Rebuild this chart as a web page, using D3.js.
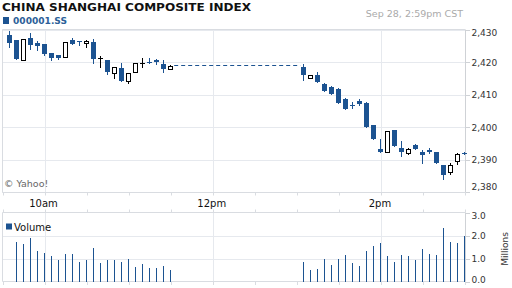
<!DOCTYPE html>
<html>
<head>
<meta charset="utf-8">
<script src="https://cdn.jsdelivr.net/npm/d3@7/dist/d3.min.js"></script>
<style>
  body { margin: 0; background: #fff; }
  text { font-family: "DejaVu Sans", sans-serif; }
</style>
</head>
<body>
<div id="chart"></div>
<script>
// 5 minute candles, morning and afternoon sessions
var times = ["09:35","09:40","09:45","09:50","09:55","10:00","10:05","10:10","10:15","10:20","10:25","10:30",
             "10:35","10:40","10:45","10:50","10:55","11:00","11:05","11:10","11:15","11:20","11:25","11:30",
             "13:05","13:10","13:15","13:20","13:25","13:30","13:35","13:40","13:45","13:50","13:55","14:00",
             "14:05","14:10","14:15","14:20","14:25","14:30","14:35","14:40","14:45","14:50","14:55","15:00"];
var open  = [2428.4,2426.9,2420.8,2427.5,2425.9,2425.7,2423.0,2422.2,2421.8,2426.9,2426.6,2425.9,
             2426.3,2421.1,2420.8,2416.7,2418.3,2414.4,2416.9,2419.4,2420.2,2420.6,2419.6,2418.0,
             2418.7,2415.2,2416.2,2413.3,2412.5,2411.9,2408.8,2407.0,2408.2,2407.5,2400.6,2393.3,
             2392.4,2399.0,2393.6,2391.9,2394.4,2392.3,2392.9,2392.3,2388.2,2386.3,2389.7,2392.0];
var high  = [2429.7,2427.0,2427.1,2429.2,2426.6,2425.7,2423.0,2422.4,2426.3,2427.5,2426.6,2426.9,
             2427.3,2422.0,2420.8,2418.6,2419.8,2416.7,2419.8,2421.4,2421.4,2421.0,2420.6,2419.3,
             2419.5,2416.2,2417.0,2413.7,2412.8,2412.0,2409.0,2407.9,2408.6,2407.9,2400.6,2396.4,
             2398.9,2399.2,2395.8,2393.7,2394.7,2393.1,2393.7,2392.3,2388.2,2389.0,2392.1,2392.3];
var low   = [2424.9,2421.2,2420.6,2424.1,2423.9,2422.2,2420.8,2421.0,2421.8,2425.7,2425.3,2424.9,
             2419.8,2418.7,2416.3,2415.3,2414.4,2413.6,2416.9,2418.6,2419.8,2419.4,2416.9,2418.0,
             2414.5,2415.2,2414.1,2411.1,2410.2,2407.4,2405.6,2405.9,2407.0,2400.0,2396.4,2392.5,
             2392.4,2394.2,2391.2,2391.7,2393.3,2388.8,2391.9,2389.0,2383.9,2385.7,2388.6,2391.7];
var close = [2426.1,2421.2,2427.1,2425.3,2425.1,2422.6,2421.4,2421.4,2426.3,2425.7,2426.4,2426.6,
             2421.0,2421.3,2416.9,2418.6,2414.4,2416.7,2419.8,2419.8,2419.8,2420.0,2418.1,2419.0,
             2416.0,2416.2,2414.1,2411.1,2410.2,2407.4,2405.6,2406.9,2407.3,2400.0,2396.4,2392.5,
             2398.9,2394.2,2392.2,2393.3,2393.3,2391.3,2392.5,2389.0,2385.1,2388.4,2391.7,2391.9];
// volume in millions
var volume = [null,1.73,1.65,1.91,1.32,1.25,1.10,0.93,1.20,1.20,0.85,0.93,
              1.46,0.81,0.93,0.93,0.85,0.97,0.62,0.76,0.59,0.59,0.66,0.49,
              0.85,0.49,0.53,0.97,0.71,0.97,1.15,0.79,0.66,1.32,1.54,1.68,
              1.10,0.85,1.15,1.10,0.93,1.41,1.19,1.15,2.34,1.72,1.68,1.99];
var lunchLevel = 2419.3;
var lunchFrom = "11:30", lunchTo = "13:00";

var priceTicks = [2430, 2420, 2410, 2400, 2390, 2380];
var volTicks = [3, 2, 1, 0];
var majorTicks = [["10:00","10am"], ["12:00","12pm"], ["14:00","2pm"]];
var minorTicks = ["09:30","10:30","11:00","11:30","12:30","13:00","13:30","14:30","15:00"];

var blue = "#1c5391", grid = "#e6e9ee", frame = "#d9dce1";
var W = 512, H = 288;

function mins(t) { var p = t.split(":"); return (+p[0]) * 60 + (+p[1]) - 570; }

var x = d3.scaleLinear().domain([0, 330]).range([2.5, 465]);
var y = d3.scaleLinear().domain([2380, 2430]).range([192, 30]);
var yv = d3.scaleLinear().domain([0, 3]).range([281.5, 212.5]);

var svg = d3.select("#chart").append("svg")
    .attr("width", W).attr("height", H);
svg.append("rect").attr("width", W).attr("height", H).attr("fill", "#fff");

function px(v) { return Math.round(v) + 0.5; }

// titles
svg.append("text").attr("x", 2).attr("y", 10.5)
    .attr("font-size", 11).attr("font-weight", "bold").attr("fill", "#111")
    .attr("textLength", 249).attr("lengthAdjust", "spacingAndGlyphs")
    .text("CHINA SHANGHAI COMPOSITE INDEX");
svg.append("rect").attr("x", 3).attr("y", 17).attr("width", 6).attr("height", 7).attr("fill", blue);
svg.append("text").attr("x", 13).attr("y", 23.5)
    .attr("font-size", 9).attr("font-weight", "bold").attr("fill", "#2d5f99")
    .attr("textLength", 54).attr("lengthAdjust", "spacingAndGlyphs")
    .text("000001.SS");
svg.append("text").attr("x", 463).attr("y", 17).attr("text-anchor", "end")
    .attr("font-size", 9.5).attr("fill", "#aaa")
    .text("Sep 28, 2:59pm CST");

// price panel grid
var main = svg.append("g");
main.selectAll(".hg").data(priceTicks).enter().append("line")
    .attr("x1", 2.5).attr("x2", 465).attr("y1", function(d){ return px(y(d)); }).attr("y2", function(d){ return px(y(d)); })
    .attr("stroke", grid);
main.selectAll(".vg").data(majorTicks).enter().append("line")
    .attr("x1", function(d){ return px(x(mins(d[0]))); }).attr("x2", function(d){ return px(x(mins(d[0]))); })
    .attr("y1", 29.5).attr("y2", 192.5).attr("stroke", grid);
main.append("line").attr("x1", 2.5).attr("x2", 465).attr("y1", 29.5).attr("y2", 29.5).attr("stroke", frame);
main.append("line").attr("x1", 2.5).attr("x2", 465).attr("y1", 192.5).attr("y2", 192.5).attr("stroke", frame);
main.append("line").attr("x1", 2.5).attr("x2", 2.5).attr("y1", 29.5).attr("y2", 192.5).attr("stroke", frame);
main.append("line").attr("x1", 465.5).attr("x2", 465.5).attr("y1", 29.5).attr("y2", 192.5).attr("stroke", "#cfd2d6");
main.selectAll(".tk").data(priceTicks).enter().append("line")
    .attr("x1", 465.5).attr("x2", 470).attr("y1", function(d){ return px(y(d)); }).attr("y2", function(d){ return px(y(d)); })
    .attr("stroke", "#cfd2d6");
main.selectAll(".pl").data(priceTicks).enter().append("text")
    .attr("x", 471.5)
    .attr("y", function(d){ return Math.min(Math.max(y(d), 33), 187) + 3.3; })
    .attr("font-size", 9).attr("fill", "#333")
    .text(function(d){ return d3.format(",")(d); });

svg.append("text").attr("x", 4).attr("y", 187).attr("font-size", 9.5).attr("fill", "#666")
    .text("\u00a9 Yahoo!");

// lunch break dashed line
main.append("line")
    .attr("x1", x(mins(lunchFrom)) + 3.5).attr("x2", x(mins(lunchTo)) + 3.5)
    .attr("y1", px(y(lunchLevel))).attr("y2", px(y(lunchLevel)))
    .attr("stroke", blue).attr("stroke-width", 1).attr("stroke-dasharray", "4,3");

// candles
var candles = times.map(function(t, i) {
    return { t: t, o: open[i], h: high[i], l: low[i], c: close[i], v: volume[i] };
});
function cx(d) { return Math.round(x(mins(d.t)) - 1); }

var cg = main.selectAll(".candle").data(candles).enter().append("g");
cg.append("line")
    .attr("x1", function(d){ return cx(d) + 0.5; }).attr("x2", function(d){ return cx(d) + 0.5; })
    .attr("y1", function(d){ return Math.round(y(d.h)); }).attr("y2", function(d){ return Math.round(y(d.l)) + 1; })
    .attr("stroke", function(d){ return d.c < d.o ? blue : "#000"; });
cg.each(function(d) {
    var g = d3.select(this);
    var top = Math.round(y(Math.max(d.o, d.c))), bot = Math.round(y(Math.min(d.o, d.c)));
    if (d.c < d.o) {
        g.append("rect").attr("x", cx(d) - 2).attr("y", top)
            .attr("width", 5).attr("height", Math.max(1, bot - top)).attr("fill", blue);
    } else if (bot - top < 2) {
        g.append("rect").attr("x", cx(d) - 2).attr("y", top)
            .attr("width", 5).attr("height", Math.max(1, bot - top)).attr("fill", "#000");
    } else {
        g.append("rect").attr("x", cx(d) - 1.5).attr("y", top + 0.5)
            .attr("width", 4).attr("height", bot - top)
            .attr("fill", "#fff").attr("stroke", "#000");
    }
});

// time axis row
var allTicks = minorTicks.concat(majorTicks.map(function(d){ return d[0]; }));
var tr = svg.append("g");
tr.selectAll(".t1").data(allTicks).enter().append("line")
    .attr("x1", function(d){ return px(x(mins(d))); }).attr("x2", function(d){ return px(x(mins(d))); })
    .attr("y1", 192.5).attr("y2", 195.5).attr("stroke", frame);
tr.selectAll(".t2").data(allTicks).enter().append("line")
    .attr("x1", function(d){ return px(x(mins(d))); }).attr("x2", function(d){ return px(x(mins(d))); })
    .attr("y1", 209.5).attr("y2", 212.5).attr("stroke", frame);
tr.selectAll(".t3").data(allTicks).enter().append("line")
    .attr("x1", function(d){ return px(x(mins(d))); }).attr("x2", function(d){ return px(x(mins(d))); })
    .attr("y1", 281.5).attr("y2", 285).attr("stroke", frame);
tr.selectAll(".xl").data(majorTicks).enter().append("text")
    .attr("x", function(d){ return x(mins(d[0])) - 1; }).attr("y", 207)
    .attr("text-anchor", "middle").attr("font-size", 10).attr("fill", "#111")
    .text(function(d){ return d[1]; });

// volume panel
var vg = svg.append("g");
vg.selectAll(".hg").data([1, 2]).enter().append("line")
    .attr("x1", 2.5).attr("x2", 465).attr("y1", function(d){ return px(yv(d)); }).attr("y2", function(d){ return px(yv(d)); })
    .attr("stroke", grid);
vg.selectAll(".vg").data(majorTicks).enter().append("line")
    .attr("x1", function(d){ return px(x(mins(d[0]))); }).attr("x2", function(d){ return px(x(mins(d[0]))); })
    .attr("y1", 212.5).attr("y2", 281.5).attr("stroke", grid);
vg.append("line").attr("x1", 2.5).attr("x2", 465).attr("y1", 212.5).attr("y2", 212.5).attr("stroke", frame);
vg.append("line").attr("x1", 2.5).attr("x2", 465).attr("y1", 281.5).attr("y2", 281.5).attr("stroke", frame);
vg.append("line").attr("x1", 2.5).attr("x2", 2.5).attr("y1", 212.5).attr("y2", 281.5).attr("stroke", frame);
vg.append("line").attr("x1", 465.5).attr("x2", 465.5).attr("y1", 212.5).attr("y2", 281.5).attr("stroke", "#cfd2d6");
vg.selectAll(".tk").data(volTicks).enter().append("line")
    .attr("x1", 465.5).attr("x2", 470).attr("y1", function(d){ return px(yv(d)); }).attr("y2", function(d){ return px(yv(d)); })
    .attr("stroke", "#cfd2d6");
vg.selectAll(".vl").data(volTicks).enter().append("text")
    .attr("x", 471.5)
    .attr("y", function(d){ return Math.min(Math.max(yv(d), 216), 279.5) + 3.3; })
    .attr("font-size", 9).attr("fill", "#333")
    .text(function(d){ return d3.format(".1f")(d); });
vg.append("text").attr("transform", "translate(507.5,249) rotate(-90)")
    .attr("text-anchor", "middle").attr("font-size", 9).attr("fill", "#333")
    .text("Millions");

vg.selectAll(".vb").data(candles.filter(function(d){ return d.v != null; })).enter().append("rect")
    .attr("x", function(d){ return cx(d); }).attr("width", 1)
    .attr("y", function(d){ return Math.round(yv(d.v)); })
    .attr("height", function(d){ return Math.round(yv(0)) - Math.round(yv(d.v)); })
    .attr("fill", blue);

vg.append("rect").attr("x", 6).attr("y", 223.5).attr("width", 6).attr("height", 6).attr("fill", blue);
vg.append("text").attr("x", 14).attr("y", 230.5).attr("font-size", 10).attr("fill", "#111")
    .text("Volume");
</script>
</body>
</html>
